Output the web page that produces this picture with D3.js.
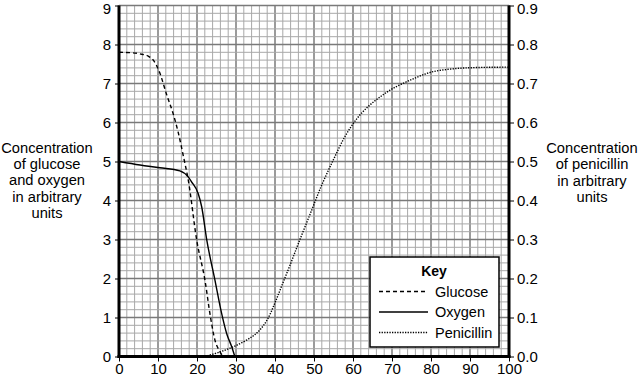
<!DOCTYPE html>
<html>
<head>
<meta charset="utf-8">
<script src="https://cdn.jsdelivr.net/npm/d3@7"></script>
<style>
  body { margin: 0; background: #fff; }
  svg { display: block; font-family: "Liberation Sans", Arial, sans-serif; }
</style>
</head>
<body>
<svg id="chart" width="640" height="378"></svg>
<script>
// ---- data ----
const xTicks = [0, 10, 20, 30, 40, 50, 60, 70, 80, 90, 100];
const leftTicks = [0, 1, 2, 3, 4, 5, 6, 7, 8, 9];
const rightTicks = [0.0, 0.1, 0.2, 0.3, 0.4, 0.5, 0.6, 0.7, 0.8, 0.9];

const glucoseX = [0, 3, 5.4, 7.5, 8.8, 10.5, 12.2, 13.9, 15.2, 16.5, 17.8, 19.9, 22.1, 23.3, 24.6, 25.9, 26.7];
const glucoseY = [7.8, 7.79, 7.76, 7.7, 7.6, 7.26, 6.72, 6.22, 5.74, 5.14, 4.5, 3.0, 1.92, 1.11, 0.42, 0.12, 0.0];

const oxygenX = [0, 5.4, 10.5, 15.6, 17.8, 18.6, 20.3, 21.2, 22.5, 24.6, 26.3, 27.6, 28.9, 29.7];
const oxygenY = [5.0, 4.91, 4.84, 4.76, 4.6, 4.48, 4.18, 3.84, 2.99, 1.96, 1.11, 0.59, 0.25, 0.0];

const penicillinX = [22, 26, 30, 34, 36, 38, 40, 42, 44, 46, 49, 52, 55, 58, 61, 64, 67, 70, 75, 80, 86, 92, 100];
const penicillinY = [0.0, 0.012, 0.028, 0.05, 0.067, 0.094, 0.138, 0.188, 0.238, 0.29, 0.365, 0.44, 0.505, 0.565, 0.61, 0.642, 0.666, 0.686, 0.71, 0.729, 0.738, 0.741, 0.742];

const leftTitle = ["Concentration", "of glucose", "and oxygen", "in arbitrary", "units"];
const rightTitle = ["Concentration", "of penicillin", "in arbitrary", "units"];
const legendItems = ["Glucose", "Oxygen", "Penicillin"];

// ---- layout ----
const svg = d3.select("#chart");
const x = d3.scaleLinear().domain([0, 100]).range([119, 509]);
const yL = d3.scaleLinear().domain([0, 9]).range([356.5, 5.5]);
const yR = d3.scaleLinear().domain([0, 0.9]).range([356.5, 5.5]);

// grid
const grid = svg.append("g");
const vMinor = d3.range(0, 101, 2);
const hMinor = d3.range(0, 46).map(i => i / 5);
grid.selectAll("line.v").data(vMinor).enter().append("line")
  .attr("x1", d => x(d)).attr("x2", d => x(d))
  .attr("y1", yL(0)).attr("y2", yL(9))
  .attr("stroke", d => d % 10 === 0 ? "#7a7a7a" : "#a8a8a8")
  .attr("stroke-width", d => d % 10 === 0 ? 1.5 : 1);
grid.selectAll("line.h").data(hMinor).enter().append("line")
  .attr("y1", d => yL(d)).attr("y2", d => yL(d))
  .attr("x1", x(0)).attr("x2", x(100))
  .attr("stroke", d => Math.abs(d - Math.round(d)) < 1e-6 ? "#7a7a7a" : "#a8a8a8")
  .attr("stroke-width", d => Math.abs(d - Math.round(d)) < 1e-6 ? 1.5 : 1);

// axes
const fs = 15;
const bottom = svg.append("g").attr("transform", `translate(0,${yL(0)})`)
  .call(d3.axisBottom(x).tickValues(xTicks).tickSize(5).tickPadding(2).tickFormat(d3.format("d")));
const left = svg.append("g").attr("transform", `translate(${x(0)},0)`)
  .call(d3.axisLeft(yL).tickValues(leftTicks).tickSize(4).tickPadding(4).tickFormat(d3.format("d")));
const right = svg.append("g").attr("transform", `translate(${x(100)},0)`)
  .call(d3.axisRight(yR).tickValues(rightTicks).tickSize(5).tickPadding(3).tickFormat(d3.format(".1f")));
[bottom, left, right].forEach(g => {
  g.select(".domain").remove();
  g.selectAll("text").attr("font-size", fs).attr("fill", "#000").attr("font-family", "Liberation Sans, Arial, sans-serif");
  g.selectAll("line").attr("stroke", "#000").attr("stroke-width", 1);
});
// keep the top labels inside the picture
left.selectAll(".tick text").filter(d => d === 9).attr("dy", "0.52em");
right.selectAll(".tick text").filter(d => Math.abs(d - 0.9) < 1e-9).attr("dy", "0.52em");

// thick axis lines
svg.append("line").attr("x1", x(0)).attr("x2", x(0)).attr("y1", yL(9)).attr("y2", yL(0) + 1.5)
  .attr("stroke", "#000").attr("stroke-width", 3);
svg.append("line").attr("x1", x(100)).attr("x2", x(100)).attr("y1", yL(9)).attr("y2", yL(0) + 1.5)
  .attr("stroke", "#000").attr("stroke-width", 3);
svg.append("line").attr("x1", x(0) - 1.5).attr("x2", x(100) + 1.5).attr("y1", yL(0)).attr("y2", yL(0))
  .attr("stroke", "#000").attr("stroke-width", 3);

// lines
const lineL = d3.line().x(d => x(d[0])).y(d => yL(d[1])).curve(d3.curveMonotoneX);
const lineR = d3.line().x(d => x(d[0])).y(d => yR(d[1])).curve(d3.curveCatmullRom.alpha(0.5));

svg.append("path").datum(d3.zip(glucoseX, glucoseY)).attr("d", lineL)
  .attr("fill", "none").attr("stroke", "#000").attr("stroke-width", 1.4).attr("stroke-dasharray", "4,3");
svg.append("path").datum(d3.zip(oxygenX, oxygenY)).attr("d", lineL)
  .attr("fill", "none").attr("stroke", "#000").attr("stroke-width", 1.4);
svg.append("path").datum(d3.zip(penicillinX, penicillinY)).attr("d", lineR)
  .attr("fill", "none").attr("stroke", "#000").attr("stroke-width", 1.4).attr("stroke-dasharray", "1.3,1.3");

// legend
const lg = svg.append("g");
lg.append("rect").attr("x", 370).attr("y", 257).attr("width", 129).attr("height", 90)
  .attr("fill", "#fff").attr("stroke", "#000").attr("stroke-width", 1.5);
lg.append("text").attr("x", 434).attr("y", 276).attr("text-anchor", "middle")
  .attr("font-size", 14).attr("font-weight", "bold").text("Key");
const dashes = ["4,3", null, "1.3,1.3"];
legendItems.forEach((name, i) => {
  const yy = 291.5 + i * 20.5;
  lg.append("line").attr("x1", 379).attr("x2", 428).attr("y1", yy).attr("y2", yy)
    .attr("stroke", "#000").attr("stroke-width", 1.4)
    .attr("stroke-dasharray", dashes[i]);
  lg.append("text").attr("x", 435).attr("y", yy + 5).attr("font-size", 14.5).text(name);
});

// axis titles
const lt = svg.append("text").attr("text-anchor", "middle").attr("font-size", 14.7);
leftTitle.forEach((t, i) => lt.append("tspan").attr("x", 47).attr("y", 153 + i * 16.2).text(t));
const rt = svg.append("text").attr("text-anchor", "middle").attr("font-size", 14.7);
rightTitle.forEach((t, i) => rt.append("tspan").attr("x", 592).attr("y", 152.5 + i * 16.5).text(t));
</script>
</body>
</html>
